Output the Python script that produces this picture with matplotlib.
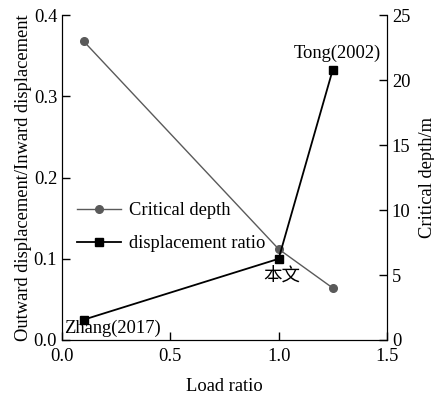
import matplotlib
matplotlib.use('Agg')
import matplotlib.pyplot as plt

load_ratio = [0.1, 1.0, 1.25]
disp_ratio = [0.025, 0.1, 0.333]
crit_depth = [23.0, 7.0, 4.0]
point_labels = ['Zhang(2017)', '本文', 'Tong(2002)']

plt.rcParams['font.family'] = ['Liberation Serif', 'Noto Sans CJK SC']
plt.rcParams['font.size'] = 13.3
plt.rcParams['xtick.direction'] = 'in'
plt.rcParams['ytick.direction'] = 'in'

fig = plt.figure(figsize=(4.35, 3.97), dpi=100)
ax1 = fig.add_axes([0.1425, 0.1436, 0.747, 0.818])
ax2 = ax1.twinx()

p2, = ax2.plot(load_ratio, crit_depth, color='#5a5a5a', marker='o', ms=5.5,
               lw=1.0, label='Critical depth')
p1, = ax1.plot(load_ratio, disp_ratio, color='black', marker='s', ms=5.5,
               lw=1.3, label='displacement ratio')
ax1.set_zorder(ax2.get_zorder() + 1)
ax1.patch.set_visible(False)

ax1.set_xlim(0, 1.5)
ax1.set_ylim(0, 0.4)
ax2.set_ylim(0, 25)
ax1.set_xticks([0, 0.5, 1.0, 1.5])
ax1.set_yticks([0, 0.1, 0.2, 0.3, 0.4])
ax2.set_yticks([0, 5, 10, 15, 20, 25])
for ax in (ax1, ax2):
    ax.spines['top'].set_visible(False)
    ax.tick_params(length=6, width=1)
ax1.tick_params(axis='x', pad=6)

ax1.set_xlabel('Load ratio', labelpad=9)
ax1.set_ylabel('Outward displacement/Inward displacement', labelpad=1)
ax2.set_ylabel('Critical depth/m', labelpad=6)

ax1.text(0.01, 0.004, point_labels[0], ha='left', va='bottom')
ax1.text(1.015, 0.078, point_labels[1], ha='center', va='center')
ax1.text(1.27, 0.353, point_labels[2], ha='center', va='center')

ax1.legend(handles=[p2, p1], loc='upper left', bbox_to_anchor=(-0.005, 0.475),
           frameon=False, handlelength=2.4, handletextpad=0.4,
           labelspacing=0.85)

fig.savefig('out.png', dpi=100)
